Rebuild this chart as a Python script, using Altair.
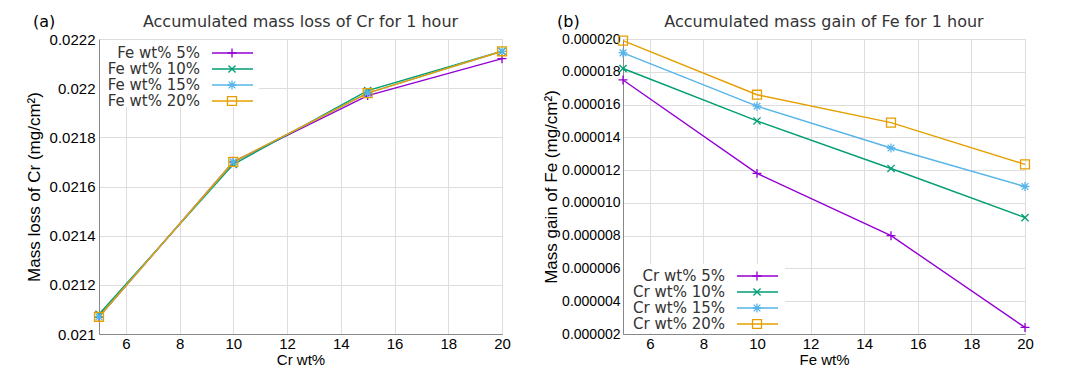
import altair as alt
import pandas as pd

x_wt = [5, 10, 15, 20]
x_ticks = [6, 8, 10, 12, 14, 16, 18, 20]

# panel (a): accumulated mass loss of Cr (mg/cm^2) vs Cr wt%
series_a = ["Fe wt% 5%", "Fe wt% 10%", "Fe wt% 15%", "Fe wt% 20%"]
cr_loss_fe5 = [0.02107, 0.02170, 0.02197, 0.02212]
cr_loss_fe10 = [0.02108, 0.02169, 0.02199, 0.02215]
cr_loss_fe15 = [0.02107, 0.02170, 0.02198, 0.02215]
cr_loss_fe20 = [0.02107, 0.02170, 0.02198, 0.02215]
y_ticks_a = [0.021, 0.0212, 0.0214, 0.0216, 0.0218, 0.022, 0.0222]

# panel (b): accumulated mass gain of Fe (mg/cm^2) vs Fe wt%
series_b = ["Cr wt% 5%", "Cr wt% 10%", "Cr wt% 15%", "Cr wt% 20%"]
fe_gain_cr5 = [17.5e-6, 11.8e-6, 8.0e-6, 2.4e-6]
fe_gain_cr10 = [18.2e-6, 15.0e-6, 12.1e-6, 9.1e-6]
fe_gain_cr15 = [19.15e-6, 15.9e-6, 13.35e-6, 11.0e-6]
fe_gain_cr20 = [19.9e-6, 16.6e-6, 14.9e-6, 12.35e-6]
y_ticks_b = [2e-6, 4e-6, 6e-6, 8e-6, 10e-6, 12e-6, 14e-6, 16e-6, 18e-6, 20e-6]

colors = ["#9400d3", "#009e73", "#56b4e9", "#e69f00"]
shapes = [
    "M-1,0H1M0,-1V1",
    "M-0.8,-0.8L0.8,0.8M-0.8,0.8L0.8,-0.8",
    "M-1,0H1M0,-1V1M-0.75,-0.75L0.75,0.75M-0.75,0.75L0.75,-0.75",
    "square",
]

FONT = "DejaVu Sans"
TXT = "#333333"


def panel(series, values, y_ticks, y_fmt, y_label_size, y_title, x_title, title,
          tag, w, h, leg_x, leg_range, leg_box, y_label_pad, y_title_pad):
    rows = []
    for s, vals in zip(series, values):
        for x, v in zip(x_wt, vals):
            rows.append({"x": x, "y": v, "s": s})
    df = pd.DataFrame(rows)
    color = alt.Color("s:N", scale=alt.Scale(domain=series, range=colors), legend=None)
    shape = alt.Shape("s:N", scale=alt.Scale(domain=series, range=shapes), legend=None)
    yscale = alt.Scale(domain=[y_ticks[0], y_ticks[-1]], nice=False, zero=False)
    xenc = alt.X("x:Q", scale=alt.Scale(domain=[5, 20], nice=False),
                 axis=alt.Axis(values=x_ticks, title=x_title, labelFlush=False,
                               labelFontSize=15, titleFontSize=15,
                               titleFontWeight="normal", ticks=False, tickSize=0,
                               labelPadding=2, titlePadding=1))
    yenc = alt.Y("y:Q", scale=yscale,
                 axis=alt.Axis(values=y_ticks, format=y_fmt, title=y_title,
                               labelFontSize=y_label_size, titleFontSize=17,
                               titleFontWeight="normal", ticks=False, tickSize=0,
                               labelPadding=y_label_pad, titlePadding=y_title_pad))
    lines = alt.Chart(df).mark_line(strokeWidth=1.4).encode(
        x=xenc, y=yenc, color=color, detail="s:N")
    points = alt.Chart(df).mark_point(filled=False, size=80, strokeWidth=1.3, opacity=1).encode(
        x=alt.X("x:Q", scale=alt.Scale(domain=[5, 20], nice=False)),
        y=alt.Y("y:Q", scale=yscale, axis=None),
        color=color, shape=shape)

    head_df = pd.DataFrame({"t": [tag], "title": [title]})

    leg_df = pd.DataFrame({"s": series, "row": list(range(len(series)))})
    bx0, bx1, by0, by1 = leg_box
    leg_bg = alt.Chart(head_df).mark_rect(fill="white").encode(
        x=alt.value(bx0), x2=alt.value(bx1), y=alt.value(by0), y2=alt.value(by1))
    leg_y = alt.Y("row:Q", scale=alt.Scale(domain=[0, len(series) - 1], range=leg_range), axis=None)
    leg_text = alt.Chart(leg_df).mark_text(align="right", baseline="middle", fontSize=15,
                                           font=FONT, color=TXT).encode(
        x=alt.value(leg_x), y=leg_y, text="s:N")
    leg_rule = alt.Chart(leg_df).mark_rule(strokeWidth=1.4).encode(
        x=alt.value(leg_x + 12), x2=alt.value(leg_x + 53), y=leg_y, color=color)
    leg_pt = alt.Chart(leg_df).mark_point(filled=False, size=80, strokeWidth=1.3, opacity=1).encode(
        x=alt.value(leg_x + 32), y=leg_y, color=color, shape=shape)

    tag_text = alt.Chart(head_df).mark_text(align="left", baseline="middle", fontSize=16,
                                            font=FONT, color="#000000").encode(
        x=alt.value(-66), y=alt.value(-17), text="t:N")
    title_text = alt.Chart(head_df).mark_text(align="center", baseline="middle", fontSize=16,
                                              font=FONT, color=TXT).encode(
        x=alt.value(w / 2), y=alt.value(-17), text="title:N")

    return alt.layer(leg_bg, lines, points, leg_rule, leg_pt, leg_text, tag_text, title_text
                     ).resolve_scale(y="independent").properties(width=w, height=h)


left = panel(series_a, [cr_loss_fe5, cr_loss_fe10, cr_loss_fe15, cr_loss_fe20],
             y_ticks_a, ".4~f", 15, "Mass loss of Cr (mg/cm²)", "Cr wt%",
             "Accumulated mass loss of Cr for 1 hour", "(a)", 403, 295,
             101, [14, 62], (1, 160, 1, 68), 4, 6)
right = panel(series_b, [fe_gain_cr5, fe_gain_cr10, fe_gain_cr15, fe_gain_cr20],
              y_ticks_b, ".6f", 14, "Mass gain of Fe (mg/cm²)", "Fe wt%",
              "Accumulated mass gain of Fe for 1 hour", "(b)", 402, 295,
              102, [237, 285], (1, 162, 225, 294), 3, 1)

chart = alt.hconcat(left, right, spacing=31).properties(
    padding={"left": 16, "top": 5, "right": 5, "bottom": 5}
).configure_view(stroke="#555555", strokeWidth=1.5).configure_axis(
    domain=False, ticks=False, tickSize=0, grid=True, gridColor="#dddddd", gridDash=[2, 2],
    labelColor=TXT, titleColor=TXT, labelFont=FONT, titleFont=FONT,
    titleFontWeight="normal"
).configure(background="white")

chart.save("out.html", embed_options={"renderer": "svg", "actions": False})
